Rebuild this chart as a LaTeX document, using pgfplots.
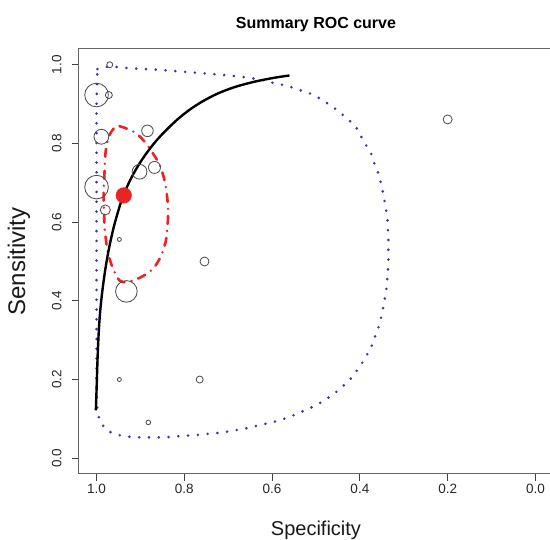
\documentclass[border=0pt]{standalone}
\usepackage{fontspec}
\setmainfont{Liberation Sans}
\usepackage{pgfplots}
\pgfplotsset{compat=1.18}
\definecolor{predblue}{RGB}{55,55,175}
\definecolor{confred}{RGB}{235,35,35}
\definecolor{circgray}{RGB}{80,80,80}
\begin{document}
\begin{tikzpicture}
\begin{axis}[
  at={(0,0)}, anchor=south west,
  scale only axis, width=474pt, height=425pt,
  x dir=reverse,
  xmin=-0.04, xmax=1.04, ymin=-0.04, ymax=1.04,
  xtick={0,0.2,0.4,0.6,0.8,1}, xticklabels={0.0,0.2,0.4,0.6,0.8,1.0},
  ytick={0,0.2,0.4,0.6,0.8,1}, yticklabels={0.0,0.2,0.4,0.6,0.8,1.0},
  xtick pos=left, ytick pos=left,
  tick align=outside, major tick length=7pt,
  tick style={black!75, line width=0.8pt},
  axis line style={black!60, line width=1pt},
  ticklabel style={font=\fontsize{13.5}{15}\selectfont, text=black!85},
  yticklabel style={rotate=90, anchor=south},
  yticklabel shift=7pt,
  xlabel={Specificity}, ylabel={Sensitivity},
  label style={text=black!90},
  xlabel style={font=\fontsize{20}{24}\selectfont, at={([yshift=-56pt]axis description cs:0.5,0)}, anchor=center},
  ylabel style={font=\fontsize{24}{28}\selectfont, at={([xshift=-60pt]axis description cs:0,0.5)}, anchor=center},
  title={Summary ROC curve},
  title style={at={([yshift=18pt]axis description cs:0.5,1)}, anchor=center, font=\bfseries\fontsize{16}{19}\selectfont},
]
% prediction region
\addplot[predblue, line width=2.9pt, line cap=round, dash pattern=on 0pt off 9.8pt] coordinates {
(0.998,0.989) (0.970,0.996) (0.925,0.991) (0.856,0.987) (0.811,0.983) (0.765,0.979)
(0.720,0.975) (0.674,0.970) (0.629,0.963) (0.588,0.951) (0.565,0.947) (0.545,0.938)
(0.525,0.932) (0.505,0.923) (0.486,0.911) (0.469,0.898) (0.450,0.883) (0.435,0.869)
(0.420,0.854) (0.406,0.837) (0.396,0.815) (0.385,0.794) (0.374,0.773) (0.367,0.749)
(0.359,0.727) (0.353,0.703) (0.348,0.678) (0.344,0.655) (0.340,0.629) (0.337,0.604)
(0.336,0.579) (0.335,0.553) (0.335,0.528) (0.335,0.503) (0.336,0.477) (0.338,0.452)
(0.340,0.426) (0.344,0.401) (0.348,0.376) (0.353,0.352) (0.359,0.327) (0.367,0.305)
(0.374,0.282) (0.385,0.261) (0.396,0.240) (0.408,0.221) (0.421,0.202) (0.437,0.185)
(0.452,0.170) (0.469,0.156) (0.487,0.143) (0.505,0.132) (0.525,0.122) (0.545,0.112)
(0.566,0.103) (0.587,0.095) (0.606,0.090) (0.629,0.084) (0.651,0.078) (0.674,0.073)
(0.695,0.069) (0.716,0.065) (0.739,0.063) (0.762,0.060) (0.784,0.058) (0.807,0.057)
(0.830,0.054) (0.853,0.053) (0.875,0.053) (0.898,0.053) (0.921,0.054) (0.942,0.057)
(0.963,0.063) (0.978,0.073) (0.989,0.088) (0.995,0.105) (0.998,0.122) (0.999,0.140)
(1.000,0.156) (1.000,0.300) (1.000,0.500) (1.000,0.700) (1.000,0.900) (0.999,0.960)
(0.998,0.989)
};
% confidence region
\addplot[confred, line width=2.6pt, line cap=round, smooth, tension=0.5, dash pattern=on 8pt off 7pt on 0pt off 7pt] coordinates {
(0.948,0.844) (0.932,0.838) (0.909,0.825) (0.887,0.800) (0.870,0.772) (0.856,0.745)
(0.845,0.706) (0.839,0.663) (0.837,0.625) (0.838,0.596) (0.842,0.553) (0.854,0.512)
(0.872,0.481) (0.899,0.460) (0.929,0.448) (0.948,0.452) (0.964,0.486) (0.975,0.528)
(0.981,0.579) (0.983,0.629) (0.984,0.672) (0.982,0.723) (0.979,0.782) (0.971,0.820)
(0.958,0.841) (0.948,0.844)
};
% SROC curve
\addplot[black, line width=2.4pt, smooth, tension=0.5] coordinates {
(1.0016,0.1218) (1.0000,0.1726) (0.9986,0.2234) (0.9970,0.2741) (0.9948,0.3249)
(0.9925,0.3629) (0.9893,0.4010) (0.9852,0.4391) (0.9804,0.4772) (0.9747,0.5152)
(0.9679,0.5533) (0.9599,0.5914) (0.9503,0.6294) (0.9431,0.6548) (0.9339,0.6812)
(0.9248,0.7036) (0.9134,0.7277) (0.9021,0.7490) (0.8884,0.7718) (0.8724,0.7954)
(0.8565,0.8162) (0.8383,0.8371) (0.8155,0.8612) (0.7882,0.8855) (0.7585,0.9069)
(0.7244,0.9266) (0.6856,0.9431) (0.6401,0.9569) (0.5945,0.9670) (0.5604,0.9727)
};
% studies
\addplot[scatter, only marks, mark=o, line width=0.85pt,
  scatter/use mapped color={draw=circgray},
  visualization depends on={\thisrow{r} \as \perpointmarksize},
  scatter/@pre marker code/.append style={/tikz/mark size=\perpointmarksize}]
  table {
x y r
0.970 1.000 3.0
1.000 0.923 11.8
0.972 0.923 3.5
0.989 0.817 7.4
0.884 0.832 5.8
0.902 0.728 7.4
0.868 0.739 6.0
1.000 0.689 11.8
0.980 0.631 5.0
0.948 0.556 2.0
0.754 0.500 4.5
0.932 0.424 10.8
0.948 0.200 2.0
0.765 0.200 3.5
0.882 0.091 2.3
0.200 0.861 4.5
};
% summary point
\addplot[only marks, mark=*, mark size=7.8pt, color=confred] coordinates {(0.938,0.668)};
\end{axis}
\pgfresetboundingbox
\useasboundingbox (-79pt,-66pt) rectangle (471pt,474pt);
\end{tikzpicture}
\end{document}
